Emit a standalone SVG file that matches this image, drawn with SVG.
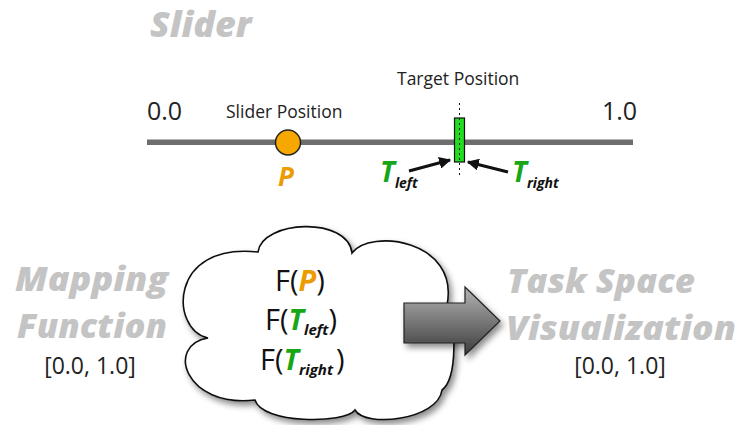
<svg xmlns="http://www.w3.org/2000/svg" width="739" height="425" viewBox="0 0 739 425">
  <style>
    text { font-family: "Open Sans", "Liberation Sans", sans-serif; fill: #222; }
    .title { font-weight: 800; font-style: italic; fill: #c4c4c4; }
    .bi { font-weight: 700; font-style: italic; }
    .orange { fill: #eb9c00; }
    .green { fill: #16a616; }
    .lbl { font-size: 17.5px; }
    .num { font-size: 25px; }
    .rng { font-size: 23px; }
    .fx { font-size: 29px; fill: #111; }
  </style>
  <defs>
    <filter id="shadow" x="-20%" y="-20%" width="150%" height="150%">
      <feDropShadow dx="3" dy="4" stdDeviation="3" flood-color="#000" flood-opacity="0.45"/>
    </filter>
    <linearGradient id="arrGrad" x1="0" y1="0" x2="0" y2="1">
      <stop offset="0" stop-color="#b4b4b4"/>
      <stop offset="1" stop-color="#3c3c3c"/>
    </linearGradient>
    <marker id="ah" viewBox="0 0 10 10" refX="9" refY="5" markerWidth="4" markerHeight="4" orient="auto" markerUnits="strokeWidth">
      <path d="M0,0 L10,5 L0,10 Z" fill="#111"/>
    </marker>
  </defs>

  <g id="slider-title">
    <text class="title" x="150" y="37" font-size="36">Slider</text>
  </g>

  <g id="slider">
    <rect x="147" y="139.5" width="486" height="5.5" fill="#6e6e6e"/>
    <text class="num" x="147" y="120">0.0</text>
    <text class="num" x="602" y="120">1.0</text>
  </g>

  <g id="slider-position">
    <text class="lbl" x="226" y="118">Slider Position</text>
    <circle cx="288" cy="142.5" r="12.5" fill="#f7a800" stroke="#222" stroke-width="1.5"/>
    <text class="bi orange" x="278" y="186" font-size="26">P</text>
  </g>

  <g id="target-position">
    <text class="lbl" x="397" y="85">Target Position</text>
    <rect x="454.5" y="118" width="10" height="44" fill="#22dd22" stroke="#111" stroke-width="1.2"/>
    <line x1="459.5" y1="103" x2="459.5" y2="177" stroke="#111" stroke-width="1" stroke-dasharray="2,3"/>
  </g>

  <g id="t-left">
    <text class="bi green" x="380" y="182" font-size="28">T<tspan font-size="14" dy="6" fill="#111">left</tspan></text>
  </g>
  <g id="t-right">
    <text class="bi green" x="512" y="182" font-size="28">T<tspan font-size="14" dy="6" fill="#111">right</tspan></text>
  </g>

  <g id="connectors">
    <line x1="409" y1="171" x2="450" y2="160" stroke="#111" stroke-width="3" marker-end="url(#ah)"/>
    <line x1="508" y1="172" x2="468" y2="162" stroke="#111" stroke-width="3" marker-end="url(#ah)"/>
  </g>

  <g id="mapping-label">
    <text class="title" x="15" y="291" font-size="33" textLength="153" lengthAdjust="spacingAndGlyphs">Mapping</text>
    <text class="title" x="17" y="338" font-size="33" textLength="150" lengthAdjust="spacingAndGlyphs">Function</text>
    <text class="rng" x="90" y="374" text-anchor="middle">[0.0, 1.0]</text>
  </g>

  <g id="cloud">
    <path d="M208,338 C170,330 168,242 258,252 C262,220 348,216 352,253 C370,228 460,240 447,305 C456,320 458,378 442,390 C438,420 365,428 355,410 C345,424 262,424 255,400 C185,408 165,345 208,338 Z" fill="#fff" stroke="#111" stroke-width="1.6" filter="url(#shadow)"/>
    <text class="fx" x="275" y="291">F(<tspan class="bi orange">P</tspan>)</text>
    <text class="fx" x="265" y="330">F(<tspan class="bi green">T</tspan><tspan class="bi" font-size="15" dy="5">left</tspan><tspan dy="-5">)</tspan></text>
    <text class="fx" x="260" y="370">F(<tspan class="bi green">T</tspan><tspan class="bi" font-size="15" dy="5">right</tspan><tspan dy="-5" dx="3">)</tspan></text>
  </g>

  <g id="block-arrow">
    <path d="M404,303 L465,303 L465,287 L500,321 L465,355 L465,343 L404,343 Z" fill="url(#arrGrad)" stroke="#222" stroke-width="1.2" filter="url(#shadow)"/>
  </g>

  <g id="task-label">
    <text class="title" x="507" y="293" font-size="33" textLength="188" lengthAdjust="spacingAndGlyphs">Task Space</text>
    <text class="title" x="506" y="340" font-size="33" textLength="230" lengthAdjust="spacingAndGlyphs">Visualization</text>
    <text class="rng" x="620" y="374" text-anchor="middle">[0.0, 1.0]</text>
  </g>
</svg>
